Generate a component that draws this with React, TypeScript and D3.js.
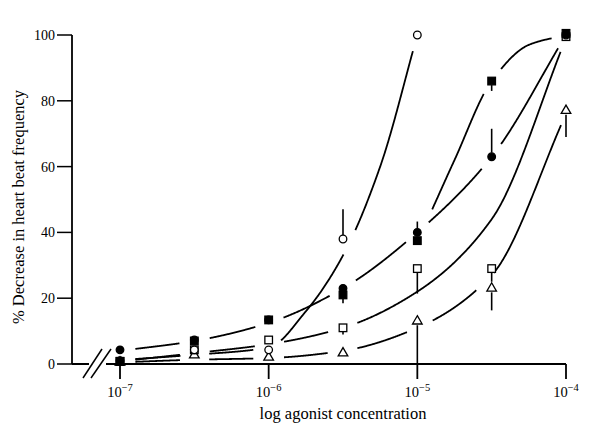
import React, { useEffect, useRef } from 'react';
import * as d3 from 'd3';

// log10 of agonist concentration (M)
const logConc = [-7, -6.5, -6, -5.5, -5, -4.5, -4];

// % decrease in heart beat frequency
const openCircle = [1, 4.3, 4.3, 38, 100, null, null];
const filledCircle = [4.3, 7.3, 13.4, 23, 40, 63, 100];
const filledSquare = [0.8, 7, 13.4, 21, 37.5, 86, 100.5];
const openSquare = [0.8, 4.3, 7.3, 11, 29, 29, 99.5];
const openTriangle = [0.5, 2.7, 2, 3.3, 13, 23, 77];

// error bars (signed, % units)
const openCircleErr = [0, 0, 0, 9, 0, 0, 0];
const filledCircleErr = [0, 0, 0, 0, 3.3, 8.5, 0];
const filledSquareErr = [0, 0, 0, -2.5, 0, -3, 0];
const openSquareErr = [0, 0, 0, -2, -7.6, -4, 0];
const openTriangleErr = [0, 0, 0, 0, -13, -6.7, -8];

// fitted curves
const openCircleFitX = [-7, -6.5, -6, -5.75, -5.5, -5.25, -5];
const openCircleFitY = [1.2, 2.8, 5, 16, 33, 60, 100];
const filledCircleFitX = [-7, -6.5, -6, -5.5, -5, -4.5, -4];
const filledCircleFitY = [4, 7, 12.5, 23, 40, 63, 100];
const filledSquareFitX = [-4.9, -4.75, -4.5, -4.25, -4];
const filledSquareFitY = [47, 62, 86, 97, 100];
const openSquareFitX = [-7, -6.5, -6, -5.5, -5, -4.5, -4];
const openSquareFitY = [0.8, 3.3, 6, 11, 22, 44, 99];
const triangleFitX = [-7, -6.5, -6, -5.5, -5, -4.5, -4];
const triangleFitY = [0.5, 1.3, 1.8, 4, 11, 27, 76];

const yTicks = [0, 20, 40, 60, 80, 100];
const xTicks = [-7, -6, -5, -4];

const series = [
  { vals: openTriangle, errs: openTriangleErr, fx: triangleFitX, fy: triangleFitY, shape: 'triangle', filled: false },
  { vals: openSquare, errs: openSquareErr, fx: openSquareFitX, fy: openSquareFitY, shape: 'square', filled: false },
  { vals: openCircle, errs: openCircleErr, fx: openCircleFitX, fy: openCircleFitY, shape: 'circle', filled: false },
  { vals: filledSquare, errs: filledSquareErr, fx: filledSquareFitX, fy: filledSquareFitY, shape: 'square', filled: true },
  { vals: filledCircle, errs: filledCircleErr, fx: filledCircleFitX, fy: filledCircleFitY, shape: 'circle', filled: true },
];

// monotone cubic (Fritsch-Carlson) through the fit nodes, sampled densely, in pixels
const sampleCurve = (fx, fy, x, y) => {
  const k = fx.length;
  const dx = [], dy = [], m = [];
  for (let i = 0; i < k - 1; i++) { dx.push(fx[i + 1] - fx[i]); dy.push((fy[i + 1] - fy[i]) / dx[i]); }
  m.push(dy[0]);
  for (let i = 1; i < k - 1; i++) {
    if (dy[i - 1] * dy[i] <= 0) m.push(0);
    else m.push((2 * dy[i - 1] * dy[i]) / (dy[i - 1] + dy[i]));
  }
  m.push(dy[k - 2]);
  const lo = fx[0], hi = fx[k - 1];
  const n = Math.round((hi - lo) * 300);
  const out = [];
  for (let j = 0; j <= n; j++) {
    const t0 = lo + (hi - lo) * j / n;
    let i = 0;
    while (i < k - 2 && t0 > fx[i + 1]) i++;
    const h = dx[i];
    const t = (t0 - fx[i]) / h;
    const h00 = 2 * t * t * t - 3 * t * t + 1, h10 = t * t * t - 2 * t * t + t;
    const h01 = -2 * t * t * t + 3 * t * t, h11 = t * t * t - t * t;
    const v = h00 * fy[i] + h10 * h * m[i] + h01 * fy[i + 1] + h11 * h * m[i + 1];
    out.push([x(t0), y(v)]);
  }
  return out;
};

const App = () => {
  const svgRef = useRef(null);

  useEffect(() => {
    const svg = d3.select(svgRef.current);
    svg.selectAll('*').remove();
    const font = 'Liberation Serif, Times New Roman, serif';

    const x = d3.scaleLinear().domain([-7, -4]).range([120, 566]);
    const y = d3.scaleLinear().domain([0, 100]).range([364, 35]);
    const axisX0 = 72;

    // y axis
    const g = svg.append('g').attr('stroke', '#000').attr('fill', 'none');
    g.append('line').attr('x1', axisX0).attr('x2', axisX0).attr('y1', y(100)).attr('y2', y(0)).attr('stroke-width', 1.8);
    yTicks.forEach(t => {
      g.append('line').attr('x1', axisX0 - 15).attr('x2', axisX0).attr('y1', y(t)).attr('y2', y(t)).attr('stroke-width', 1.5);
    });
    svg.append('g').selectAll('text').data(yTicks).enter().append('text')
      .attr('x', axisX0 - 17).attr('y', d => y(d) + 5)
      .attr('text-anchor', 'end').attr('font-family', font).attr('font-size', 14)
      .text(d => d);

    // x axis with break
    g.append('line').attr('x1', axisX0).attr('x2', 89).attr('y1', y(0)).attr('y2', y(0)).attr('stroke-width', 2);
    g.append('line').attr('x1', 106).attr('x2', x(-4)).attr('y1', y(0)).attr('y2', y(0)).attr('stroke-width', 2);
    g.append('line').attr('x1', 83).attr('y1', 378).attr('x2', 102).attr('y2', 349).attr('stroke-width', 1.5);
    g.append('line').attr('x1', 91).attr('y1', 378).attr('x2', 111).attr('y2', 349).attr('stroke-width', 1.5);
    xTicks.forEach(t => {
      g.append('line').attr('x1', x(t)).attr('x2', x(t)).attr('y1', y(0)).attr('y2', y(0) + 15).attr('stroke-width', 1.8);
    });
    const xl = svg.append('g').selectAll('text').data(xTicks).enter().append('text')
      .attr('x', d => x(d)).attr('y', 397)
      .attr('text-anchor', 'middle').attr('font-family', font).attr('font-size', 14.5);
    xl.append('tspan').text('10');
    xl.append('tspan').attr('dy', -6).attr('font-size', 10.5).text(d => '\u2212' + Math.abs(d));

    svg.append('text').attr('x', 343).attr('y', 419).attr('text-anchor', 'middle')
      .attr('font-family', font).attr('font-size', 16.5).text('log agonist concentration');
    svg.append('text').attr('transform', 'translate(24,207) rotate(-90)').attr('text-anchor', 'middle')
      .attr('font-family', font).attr('font-size', 16.5).text('% Decrease in heart beat frequency');

    // fitted curves, broken around their own points
    const plain = d3.line();
    const gapR = 15;
    series.forEach(s => {
      const dense = sampleCurve(s.fx, s.fy, x, y);
      const pts = s.vals
        .map((v, i) => (v == null ? null : [x(logConc[i]), y(v)]))
        .filter(p => p);
      const runs = [];
      let run = [];
      dense.forEach(p => {
        const gap = pts.some(q => Math.hypot(p[0] - q[0], p[1] - q[1]) < gapR);
        if (gap) {
          if (run.length > 1) runs.push(run);
          run = [];
        } else {
          run.push(p);
        }
      });
      if (run.length > 1) runs.push(run);
      svg.append('g').selectAll('path').data(runs).enter().append('path')
        .attr('d', d => plain(d))
        .attr('fill', 'none').attr('stroke', '#000').attr('stroke-width', 1.8);
    });

    // error bars
    series.forEach(s => {
      s.vals.forEach((v, i) => {
        const e = s.errs[i];
        if (v == null || !e) return;
        const cx = x(logConc[i]);
        const edge = e > 0 ? -4 : 4;
        svg.append('line').attr('x1', cx).attr('x2', cx)
          .attr('y1', y(v) + edge).attr('y2', y(v + e))
          .attr('stroke', '#000').attr('stroke-width', 1.6);
      });
    });

    // symbols
    series.forEach(s => {
      const sg = svg.append('g').attr('stroke', '#000').attr('stroke-width', 1.3)
        .attr('fill', s.filled ? '#000' : '#fff');
      s.vals.forEach((v, i) => {
        if (v == null) return;
        const cx = x(logConc[i]);
        const cy = y(v);
        if (s.shape === 'circle') {
          sg.append('circle').attr('cx', cx).attr('cy', cy).attr('r', 3.8);
        } else if (s.shape === 'square') {
          sg.append('rect').attr('x', cx - 3.8).attr('y', cy - 3.8).attr('width', 7.6).attr('height', 7.6);
        } else {
          sg.append('path').attr('transform', `translate(${cx},${cy})`)
            .attr('d', d3.symbol().type(d3.symbolTriangle).size(40)());
        }
      });
    });
  }, []);

  return (
    <svg ref={svgRef} width={595} height={428}
      style={{ position: 'absolute', left: 0, top: 0, background: '#fff' }} />
  );
};

export default App;
